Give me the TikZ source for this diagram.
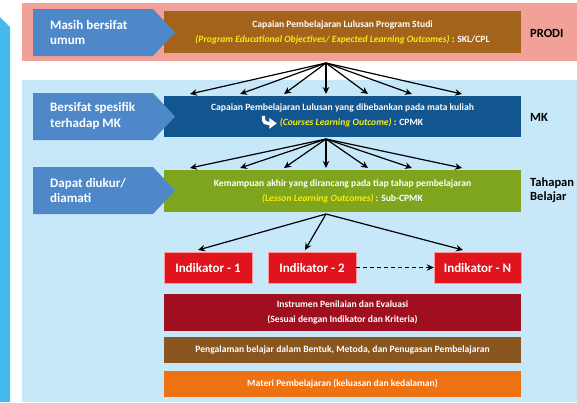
\documentclass[tikz,border=0pt]{standalone}
\usepackage{fontspec}
\setmainfont{Carlito}
\newfontfamily\condfont{Carlito}
\usetikzlibrary{arrows.meta}
\definecolor{barblue}{HTML}{45B9EC}
\definecolor{pinkbg}{HTML}{F2A199}
\definecolor{lightbg}{HTML}{C6E8F9}
\definecolor{arrblue}{HTML}{4F88C8}
\definecolor{brownA}{HTML}{A3631B}
\definecolor{mkblue}{HTML}{13558F}
\definecolor{greenA}{HTML}{7FA51E}
\definecolor{redA}{HTML}{E0141C}
\definecolor{redB}{HTML}{A00F1F}
\definecolor{brownB}{HTML}{8A5620}
\definecolor{orangeA}{HTML}{EE7211}
\definecolor{yel}{HTML}{F7EC0F}
\tikzset{
  mainbox/.style={rectangle, inner sep=0pt, minimum width=357pt, text=white,
    font=\condfont\bfseries\fontsize{9.6}{15}\selectfont, align=center},
  indbox/.style={rectangle, inner sep=0pt, minimum height=31pt, text=white, fill=redA,
    draw=red!40!white, line width=0.4pt,
    font=\bfseries\fontsize{13}{13}\selectfont},
  arrlabel/.style={anchor=west, text=white, align=left, inner sep=0pt,
    font=\bfseries\fontsize{13}{15.5}\selectfont},
  sidelabel/.style={anchor=west, text=black, align=left, inner sep=0pt,
    font=\bfseries\fontsize{12.5}{14}\selectfont},
  fan/.style={line width=1.2pt, -{Stealth[length=7pt,width=6.5pt]}},
}
\newcommand{\yl}[1]{\textcolor{yel}{\itshape #1}}
\begin{document}
\begin{tikzpicture}[x=1pt,y=-1pt]
\useasboundingbox (0,0) rectangle (577,402);
% backgrounds
\fill[barblue] (0,17) -- (10,27) -- (10,402) -- (0,402) -- cycle;
\fill[pinkbg] (22,3) rectangle (577,61);
\fill[lightbg] (22,80) rectangle (577,402);

% main boxes
\node[mainbox, fill=brownA, minimum height=42pt] (cpl) at (342.5,32)
  {Capaian Pembelajaran Lulusan Program Studi\\
   \yl{(Program Educational Objectives/ Expected Learning Outcomes)} : SKL/CPL};
\node[mainbox, fill=mkblue, minimum height=41pt] (cpmk) at (342.5,116.5)
  {Capaian Pembelajaran Lulusan yang dibebankan pada mata kuliah\\
   \tikz[x=1pt,y=1pt,baseline=0pt]{\draw[white,line width=3.4pt] (1.7,10) -- (1.7,6) to[out=-90,in=180] (6.5,2.5) -- (8,2.5);
     \fill[white] (7.5,8) -- (15,2.5) -- (7.5,-3) -- cycle;}\hspace{3pt}%
   \yl{(Courses Learning Outcome)} : CPMK};
\node[mainbox, fill=greenA, minimum height=42pt] (sub) at (342.5,191)
  {Kemampuan akhir yang dirancang pada tiap tahap pembelajaran\\
   \yl{(Lesson Learning Outcomes)} : Sub-CPMK};

% indicators
\node[indbox, minimum width=88pt] (ind1) at (208,267.5) {Indikator - 1};
\node[indbox, minimum width=88pt] (ind2) at (312,267.5) {Indikator - 2};
\node[indbox, minimum width=87pt] (indN) at (477.5,267.5) {Indikator - N};

% lower boxes
\node[mainbox, fill=redB, minimum height=37pt] (instr) at (342.5,312)
  {Instrumen Penilaian dan Evaluasi\\(Sesuai dengan Indikator dan Kriteria)};
\node[mainbox, fill=brownB, minimum height=26pt] (peng) at (342.5,350)
  {Pengalaman belajar dalam Bentuk, Metoda, dan Penugasan Pembelajaran};
\node[mainbox, fill=orangeA, minimum height=26pt] (mat) at (342.5,384)
  {Materi Pembelajaran (keluasan dan kedalaman)};

% left pentagons
\fill[arrblue] (33,9) -- (153,9) -- (175,32.5) -- (153,56) -- (33,56) -- cycle;
\fill[arrblue] (33,93) -- (153,93) -- (175,116.5) -- (153,140) -- (33,140) -- cycle;
\fill[arrblue] (33,167) -- (153,167) -- (175,190.5) -- (153,214) -- (33,214) -- cycle;
\node[arrlabel] (l1) at (50,32.5) {Masih bersifat\\umum};
\node[arrlabel] (l2) at (50,116) {Bersifat spesifik\\terhadap MK};
\node[arrlabel] (l3) at (50,190.5) {Dapat diukur/\\diamati};

% side labels
\node[sidelabel] (s1) at (530,33) {PRODI};
\node[sidelabel] (s2) at (530,117) {MK};
\node[sidelabel] (s3) at (530,190) {Tahapan\\Belajar};

% fan 1
\coordinate (c1) at (326,63);
\foreach \i/\xx in {1/190,2/240,3/284,4/326,5/368,6/412,7/462} {
  \coordinate (a\i) at (\xx,94);
  \draw[fan] (c1) -- (a\i);
}
% fan 2
\coordinate (c2) at (326,139);
\foreach \i/\xx in {1/190,2/240,3/284,4/326,5/368,6/412,7/462} {
  \coordinate (b\i) at (\xx,168);
  \draw[fan] (c2) -- (b\i);
}
% fan 3
\coordinate (c3) at (326,214);
\coordinate (d1) at (198,250);
\coordinate (d2) at (305,250);
\coordinate (d3) at (463,250);
\draw[fan] (c3) -- (d1);
\draw[fan] (c3) -- (d2);
\draw[fan] (c3) -- (d3);
% dashed
\draw[line width=1.2pt, dash pattern=on 4pt off 3pt, -{Stealth[length=7pt,width=6.5pt]}] (ind2.east) -- (indN.west);
\end{tikzpicture}
\end{document}
